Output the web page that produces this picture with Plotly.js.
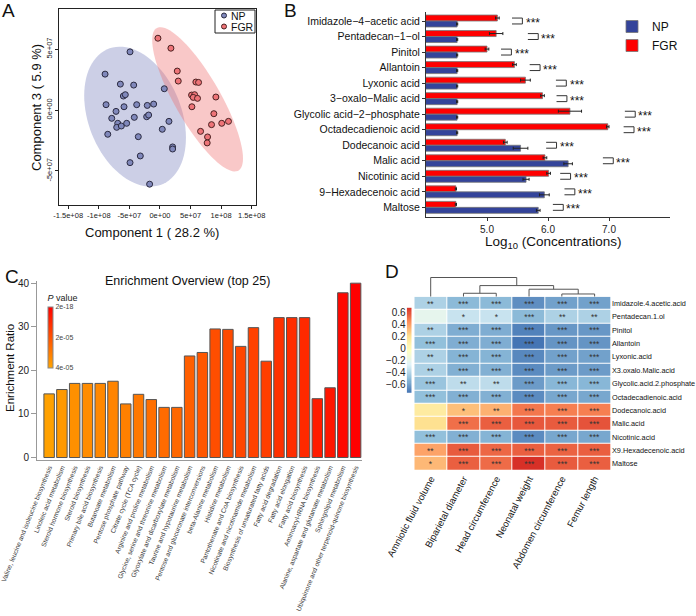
<!DOCTYPE html>
<html>
<head>
<meta charset="utf-8">
<script src="https://cdn.plot.ly/plotly-3.0.1.min.js"></script>
<style>html,body{margin:0;padding:0;background:#fff}#fig{width:696px;height:616px}</style>
</head>
<body>
<div id="fig"></div>
<script>
// ---- A: scores on component 1 / component 3 (units of 1e7)
const npPc1 = [-4.89,-8.97,-6.47,-4.29,-5.98,-5.66,-8.81,-7.18,-5.87,-3.80,-2.07,-1.03,0.71,-7.88,-6.90,-7.07,-6.31,-5.44,-4.19,-2.17,-1.85,-8.53,-3.54,0.38,1.47,2.07,2.07,-3.21,-4.89,-1.69];
const npPc3 = [4.78,2.95,2.13,2.05,1.15,1.26,0.44,-0.11,0.27,0.44,0.38,0.49,1.75,-0.68,-1.09,-1.42,-1.31,-1.09,-0.60,-0.55,-0.41,-1.99,-2.19,-1.58,-0.93,-3.03,-3.20,-3.77,-4.32,-6.09];
const fgrPc1 = [-0.33,1.79,2.83,2.99,5.87,6.31,5.17,5.66,5.44,6.14,5.22,9.14,8.81,11.2,10.1,8.43,6.64,7.78,7.72];
const fgrPc3 = [5.90,5.08,3.20,2.38,2.30,2.27,1.23,1.26,1.04,0.96,0.27,1.07,-0.30,-0.93,-1.09,-1.20,-1.75,-2.21,-2.70];
const groups = ['NP', 'FGR'];

// ---- B: log10 concentrations
const metabolites = ['Imidazole−4−acetic acid','Pentadecan−1−ol','Pinitol','Allantoin','Lyxonic acid','3−oxalo−Malic acid','Glycolic acid−2−phosphate','Octadecadienoic acid','Dodecanoic acid','Malic acid','Nicotinic acid','9−Hexadecenoic acid','Maltose'];
const fgrMean = [5.17,5.15,5.00,5.45,5.63,5.91,6.36,6.98,5.30,5.95,6.01,4.49,4.49];
const fgrSE   = [0.03,0.11,0.03,0.03,0.08,0.03,0.19,0.02,0.03,0.03,0.03,0.01,0.01];
const npMean  = [4.51,4.51,4.51,4.51,4.51,4.51,4.51,4.51,5.55,6.33,5.64,5.94,5.84];
const npSE    = [0.01,0.01,0.01,0.01,0.01,0.01,0.01,0.01,0.12,0.07,0.05,0.08,0.03];
const pointMax = [5.24,5.50,5.06,5.53,5.96,5.97,7.09,7.07,5.80,6.73,6.03,6.10,5.91];

// ---- C: pathway enrichment
const pathways = ['Valine, leucine and isoleucine biosynthesis','Linoleic acid metabolism','Steroid hormone biosynthesis','Steroid biosynthesis','Primary bile acid biosynthesis','Butanoate metabolism','Pentose phosphate pathway','Citrate cycle (TCA cycle)','Arginine and proline metabolism','Glycine, serine and threonine metabolism','Glyoxylate and dicarboxylate metabolism','Taurine and hypotaurine metabolism','Pentose and glucuronate interconversions','beta-Alanine metabolism','Histidine metabolism','Pantothenate and CoA biosynthesis','Nicotinate and nicotinamide metabolism','Biosynthesis of unsaturated fatty acids','Fatty acid degradation','Fatty acid elongation','Fatty acid biosynthesis','Aminoacyl-tRNA biosynthesis','Alanine, aspartate and glutamate metabolism','Sphingolipid metabolism','Ubiquinone and other terpenoid-quinone biosynthesis'];
const enrichRatio = [14.6,15.6,17.0,17.0,17.0,17.5,12.3,14.5,13.3,11.5,11.5,23.3,24.1,29.5,29.4,25.5,29.8,22.1,32.1,32.1,32.1,13.5,16.0,37.8,40.0];
const pValue = [3.9e-5,3.7e-5,3.5e-5,3.4e-5,3.3e-5,3.2e-5,3.1e-5,2.9e-5,2.7e-5,2.6e-5,2.5e-5,2.3e-5,2.1e-5,1.9e-5,1.8e-5,1.7e-5,1.6e-5,1.5e-5,1.2e-5,1.1e-5,1.0e-5,6.5e-6,5.0e-6,2.0e-6,2e-18];

// ---- D: correlation heatmap
const clinical = ['Amniotic fluid volume','Biparietal diameter','Head circumference','Neonatal weight','Abdomen circumference','Femur length'];
const rowNames = ['Imidazole.4.acetic.acid','Pentadecan.1.ol','Pinitol','Allantoin','Lyxonic.acid','X3.oxalo.Malic.acid','Glycolic.acid.2.phosphate','Octadecadienoic.acid','Dodecanoic.acid','Malic.acid','Nicotinic.acid','X9.Hexadecenoic.acid','Maltose'];
const corrValues = [
  [-0.42,-0.52,-0.52,-0.66,-0.60,-0.60],
  [-0.22,-0.34,-0.34,-0.52,-0.42,-0.42],
  [-0.42,-0.56,-0.56,-0.70,-0.63,-0.63],
  [-0.50,-0.56,-0.56,-0.74,-0.64,-0.64],
  [-0.42,-0.54,-0.54,-0.68,-0.60,-0.60],
  [-0.42,-0.55,-0.55,-0.67,-0.62,-0.62],
  [-0.48,-0.37,-0.37,-0.62,-0.53,-0.53],
  [-0.50,-0.55,-0.55,-0.67,-0.58,-0.58],
  [0.12,0.30,0.34,0.50,0.48,0.48],
  [0.20,0.52,0.56,0.58,0.57,0.59],
  [-0.50,-0.55,-0.54,-0.67,-0.58,-0.58],
  [0.38,0.57,0.54,0.56,0.55,0.56],
  [0.32,0.56,0.53,0.68,0.57,0.56]
];
const corrStars = [
  ['**','***','***','***','***','***'],
  ['','*','*','***','**','**'],
  ['**','***','***','***','***','***'],
  ['***','***','***','***','***','***'],
  ['**','***','***','***','***','***'],
  ['**','***','***','***','***','***'],
  ['***','**','**','***','***','***'],
  ['***','***','***','***','***','***'],
  ['','*','**','***','***','***'],
  ['','***','***','***','***','***'],
  ['***','***','***','***','***','***'],
  ['**','***','***','***','***','***'],
  ['*','***','***','***','***','***']
];
// column dendrogram (hclust style merge, negative = leaf)
const dendroMerge = [[-2,-3],[-5,-6],[-4,2],[1,3],[-1,4]];
const dendroHeight = [3.4,2.7,7.4,11.0,19.0];

const W = 696, H = 616;
const px = x => x / W;
const py = y => 1 - y / H;
const FONT = 'Liberation Sans, Arial, sans-serif';

function ellipsePath(xs, ys, r) {
  const n = xs.length;
  const mx = xs.reduce((a, b) => a + b, 0) / n;
  const my = ys.reduce((a, b) => a + b, 0) / n;
  let sxx = 0, syy = 0, sxy = 0;
  for (let i = 0; i < n; i++) {
    const dx = xs[i] - mx, dy = ys[i] - my;
    sxx += dx * dx; syy += dy * dy; sxy += dx * dy;
  }
  sxx /= n - 1; syy /= n - 1; sxy /= n - 1;
  const l11 = Math.sqrt(sxx), l21 = sxy / l11, l22 = Math.sqrt(syy - l21 * l21);
  let d = '';
  for (let k = 0; k <= 90; k++) {
    const t = 2 * Math.PI * k / 90;
    const x = mx + r * l11 * Math.cos(t);
    const y = my + r * (l21 * Math.cos(t) + l22 * Math.sin(t));
    d += (k ? 'L' : 'M') + x + ',' + y;
  }
  return d + 'Z';
}

function dendroLines(merge, heights) {
  const pos = [], hgt = [], xs = [], ys = [];
  const node = k => k < 0 ? [-k - 1, 0] : [pos[k - 1], hgt[k - 1]];
  merge.forEach((m, i) => {
    const [xa, ya] = node(m[0]);
    const [xb, yb] = node(m[1]);
    const h = heights[i];
    xs.push(xa, xa, xb, xb, null);
    ys.push(ya, h, h, yb, null);
    pos.push((xa + xb) / 2); hgt.push(h);
  });
  return {xs, ys};
}

const E7 = 1e7;
const npX = npPc1.map(v => v * E7), npY = npPc3.map(v => v * E7);
const fgrX = fgrPc1.map(v => v * E7), fgrY = fgrPc3.map(v => v * E7);
const metIdx = metabolites.map((m, i) => i);
const pathIdx = pathways.map((p, i) => i);
const ptFill = ['#8088bb', '#ee7478'], ptLine = ['#2a2a40', '#4a2020'];

const traces = [];
// A
traces.push({type: 'scatter', mode: 'markers', name: 'NP', x: npX, y: npY, xaxis: 'x', yaxis: 'y', showlegend: false,
  marker: {size: 6, color: ptFill[0], line: {color: ptLine[0], width: 1}}, hoverinfo: 'skip'});
traces.push({type: 'scatter', mode: 'markers', name: 'FGR', x: fgrX, y: fgrY, xaxis: 'x', yaxis: 'y', showlegend: false,
  marker: {size: 6, color: ptFill[1], line: {color: ptLine[1], width: 1}}, hoverinfo: 'skip'});

// B
traces.push({type: 'bar', orientation: 'h', name: 'FGR', x: fgrMean, y: metIdx, xaxis: 'x2', yaxis: 'y2',
  marker: {color: '#ff0000', line: {color: '#777', width: 0.8}},
  error_x: {type: 'data', array: fgrSE, color: '#222', thickness: 1, width: 1.5}, hoverinfo: 'skip'});
traces.push({type: 'bar', orientation: 'h', name: 'NP', x: npMean, y: metIdx, xaxis: 'x2', yaxis: 'y2',
  marker: {color: '#34449a', line: {color: '#777', width: 0.8}},
  error_x: {type: 'data', array: npSE, color: '#222', thickness: 1, width: 1.5}, hoverinfo: 'skip'});

// C
traces.push({type: 'bar', x: pathIdx, y: enrichRatio, xaxis: 'x3', yaxis: 'y3', width: 0.82, showlegend: false, hoverinfo: 'skip',
  marker: {color: pValue.map(p => -p), cmin: -4e-5, cmax: 0, colorscale: [[0, '#ffa500'], [1, '#ff0000']],
    line: {color: '#555', width: 1},
    colorbar: {x: px(48), xanchor: 'left', xpad: 0, y: py(330), yanchor: 'middle', ypad: 0,
      lenmode: 'pixels', len: 76, thicknessmode: 'pixels', thickness: 4.5,
      outlinewidth: 1, outlinecolor: '#888', ticks: '',
      tickvals: [-4e-5, -2e-5, -2e-18], ticktext: ['4e-05', '2e-05', '2e-18'],
      tickfont: {size: 7, color: '#444'},
      title: {text: '<i>P</i> value', side: 'top', font: {size: 9, color: '#222'}}}}});

// D heatmap
const flat = corrValues.flat();
const zmin = Math.min(...flat), zmax = Math.max(...flat);
const rdylbu = ['#4575b4', '#91bfdb', '#e0f3f8', '#ffffbf', '#fee090', '#fc8d59', '#d73027'];
const cscale = rdylbu.map((c, i) => [i / (rdylbu.length - 1), c]);
traces.push({type: 'heatmap', z: corrValues, x: clinical.map((c, i) => i), y: rowNames.map((r, i) => i),
  xaxis: 'x4', yaxis: 'y4', colorscale: cscale, zmin: zmin, zmax: zmax, showscale: false,
  text: corrStars, texttemplate: '%{text}', textfont: {size: 8.5, color: '#333'},
  xgap: 1, ygap: 1, hoverinfo: 'skip'});

// D colour key
const keySteps = [];
for (let k = 0; k <= 80; k++) keySteps.push(zmin + (zmax - zmin) * k / 80);
traces.push({type: 'heatmap', z: keySteps.map(v => [v]), x: [0], y: keySteps, xaxis: 'x6', yaxis: 'y6',
  colorscale: cscale, zmin: zmin, zmax: zmax, showscale: false, hoverinfo: 'skip'});

// D dendrogram
const dl = dendroLines(dendroMerge, dendroHeight);
traces.push({type: 'scatter', mode: 'lines', x: dl.xs, y: dl.ys, xaxis: 'x5', yaxis: 'y5',
  line: {color: '#555', width: 1}, showlegend: false, hoverinfo: 'skip', connectgaps: false});

// ellipses in A, brackets + stars in B
const shapes = [
  {type: 'path', xref: 'x', yref: 'y', path: ellipsePath(npX, npY, 2.55), fillcolor: 'rgba(120,130,190,0.38)', line: {width: 0}, layer: 'below'},
  {type: 'path', xref: 'x', yref: 'y', path: ellipsePath(fgrX, fgrY, 2.55), fillcolor: 'rgba(240,110,110,0.38)', line: {width: 0}, layer: 'below'}
];
const annotations = [];
pointMax.forEach((v, i) => {
  const x0 = v + 0.17, x1 = x0 + 0.17;
  shapes.push({type: 'path', xref: 'x2', yref: 'y2',
    path: `M${x0},${i - 0.19}L${x1},${i - 0.19}L${x1},${i + 0.19}L${x0},${i + 0.19}`,
    line: {color: '#333', width: 1}});
  annotations.push({xref: 'x2', yref: 'y2', x: x1 + 0.02, y: i, text: '***', showarrow: false,
    xanchor: 'left', yanchor: 'middle', yshift: -2, font: {size: 12, color: '#111'}});
});

// small boxed key for A
shapes.push({type: 'rect', xref: 'paper', yref: 'paper', x0: px(215), x1: px(255), y0: py(33), y1: py(10),
  line: {color: '#222', width: 1}, fillcolor: '#fff'});
groups.forEach((g, i) => {
  const cy = 15.5 + i * 11;
  shapes.push({type: 'circle', xref: 'paper', yref: 'paper', x0: px(221.5), x1: px(226.5), y0: py(cy + 2.5), y1: py(cy - 2.5),
    fillcolor: ptFill[i], line: {color: ptLine[i], width: 1}});
  annotations.push({xref: 'paper', yref: 'paper', x: px(229), y: py(cy), text: g, showarrow: false,
    xanchor: 'left', yanchor: 'middle', font: {size: 10.5, color: '#111'}});
});

const label = (x, y, text, size, extra) => Object.assign({xref: 'paper', yref: 'paper', x: px(x), y: py(y), text: text,
  showarrow: false, xanchor: 'center', yanchor: 'middle', font: {size: size, color: '#111'}}, extra || {});
annotations.push(
  label(8, 10, 'A', 19), label(290, 10, 'B', 19), label(12, 276, 'C', 19), label(392, 272, 'D', 19),
  label(152, 232, 'Component 1 ( 28.2 %)', 13),
  label(36, 108, 'Component 3 ( 5.9 %)', 13, {textangle: -90}),
  label(553, 243, 'Log<sub>10</sub> (Concentrations)', 13.5),
  label(187, 281, 'Enrichment Overview (top 25)', 12.5),
  label(10, 368, 'Enrichment Ratio', 11.5, {textangle: -90})
);

const axBase = {showgrid: false, zeroline: false, automargin: false, ticklabeloverflow: 'allow', tickfont: {size: 8, color: '#222'}};
const layout = {
  width: W, height: H, margin: {l: 0, r: 0, t: 0, b: 0},
  paper_bgcolor: '#fff', plot_bgcolor: 'rgba(0,0,0,0)',
  font: {family: FONT, color: '#111'},
  barmode: 'group', bargap: 0.23, bargroupgap: 0,
  xaxis: Object.assign({}, axBase, {domain: [px(59), px(256)], anchor: 'y', range: [-1.65e8, 1.57e8],
    tickvals: [-1.5e8, -1e8, -5e7, 0, 5e7, 1e8, 1.5e8],
    ticktext: ['-1.5e+08', '-1e+08', '-5e+07', '0e+00', '5e+07', '1e+08', '1.5e+08'],
    tickangle: 0, tickfont: {size: 7.5, color: '#222'},
    showline: true, mirror: true, linecolor: '#222', ticks: 'outside', ticklen: 3, tickcolor: '#222'}),
  yaxis: Object.assign({}, axBase, {domain: [py(205), py(9)], anchor: 'x', range: [-0.78e8, 0.83e8],
    tickvals: [-5e7, 0, 5e7], ticktext: ['-5e+07', '0e+00', '5e+07'], tickangle: -90, tickfont: {size: 7.5, color: '#222'},
    showline: true, mirror: true, linecolor: '#222', ticks: 'outside', ticklen: 3, tickcolor: '#222'}),
  xaxis2: Object.assign({}, axBase, {domain: [px(426), px(670)], anchor: 'y2', range: [4, 8],
    tickvals: [5, 6, 7], ticktext: ['5.0', '6.0', '7.0'], tickfont: {size: 10, color: '#222'},
    showline: true, linecolor: '#333', ticks: 'outside', ticklen: 3, tickcolor: '#333'}),
  yaxis2: Object.assign({}, axBase, {domain: [py(217), py(12)], anchor: 'x2', range: [12.62, -0.58],
    tickvals: metIdx, ticktext: metabolites, tickfont: {size: 10.5, color: '#111'},
    showline: true, linecolor: '#333', ticks: 'outside', ticklen: 3, tickcolor: '#333'}),
  xaxis3: Object.assign({}, axBase, {domain: [px(37), px(362)], anchor: 'y3', range: [-0.95, 24.5],
    tickvals: pathIdx, ticktext: pathways, tickangle: -68, tickfont: {size: 6.6, color: '#333'},
    showline: true, linecolor: '#999', ticks: ''}),
  yaxis3: Object.assign({}, axBase, {domain: [py(460), py(281)], anchor: 'x3', range: [-0.57, 40.5],
    tickvals: [0, 10, 20, 30, 40], tickfont: {size: 10, color: '#222'},
    showline: true, linecolor: '#999', ticks: 'outside', ticklen: 5, tickcolor: '#999'}),
  xaxis4: Object.assign({}, axBase, {domain: [px(414.3), px(611)], anchor: 'y4', range: [-0.5, 5.5],
    tickvals: clinical.map((c, i) => i), ticktext: clinical, tickangle: -62, tickfont: {size: 9.5, color: '#111'},
    showline: false, ticks: ''}),
  yaxis4: Object.assign({}, axBase, {domain: [py(470.5), py(296.7)], anchor: 'x4', side: 'right', range: [12.5, -0.5],
    tickvals: rowNames.map((r, i) => i), ticktext: rowNames, tickfont: {size: 7.3, color: '#111'},
    showline: false, ticks: ''}),
  xaxis5: Object.assign({}, axBase, {domain: [px(414.3), px(611)], anchor: 'y5', range: [-0.5, 5.5], visible: false}),
  yaxis5: Object.assign({}, axBase, {domain: [py(296.7), py(276)], anchor: 'x5', range: [0, 20.5], visible: false}),
  xaxis6: Object.assign({}, axBase, {domain: [px(406.7), px(411.7)], anchor: 'y6', range: [-0.5, 0.5], visible: false}),
  yaxis6: Object.assign({}, axBase, {domain: [py(392.7), py(307.7)], anchor: 'x6', range: [zmin, zmax],
    tickvals: [-0.6, -0.4, -0.2, 0, 0.2, 0.4, 0.6], ticktext: ['−0.6', '−0.4', '−0.2', '0', '0.2', '0.4', '0.6'],
    tickfont: {size: 10, color: '#222'}, showline: false, ticks: ''}),
  showlegend: true,
  legend: {x: px(612), xanchor: 'left', y: py(12), yanchor: 'top', bgcolor: 'rgba(0,0,0,0)', borderwidth: 0,
    font: {size: 12}, traceorder: 'reversed', itemwidth: 30},
  shapes: shapes,
  annotations: annotations
};

Plotly.newPlot('fig', traces, layout, {staticPlot: true});
</script>
</body>
</html>
